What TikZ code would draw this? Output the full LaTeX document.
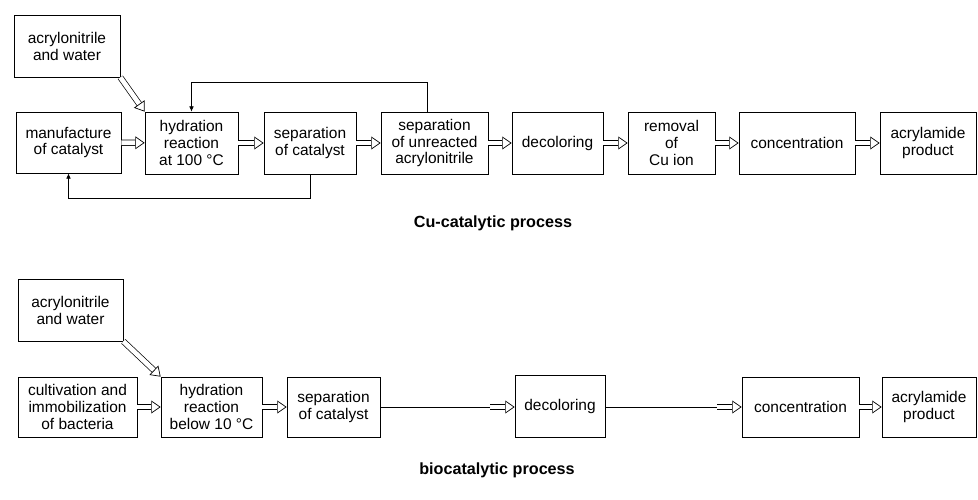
\documentclass[tikz,border=0pt]{standalone}
\usepackage{fontspec}
\setmainfont{Liberation Sans}
\usetikzlibrary{arrows.meta}

\tikzset{
  box/.style={draw, line width=0.6pt, align=center, inner sep=1pt,
    font=\fontsize{13.2}{14.5}\selectfont},
  wh/.style 2 args={minimum width=#1*0.03cm, minimum height=#2*0.03cm},
  hollow/.style={draw, line width=0.6pt, double, double distance=4pt,
    -{Triangle[open, length=8pt, width=11pt, line width=0.6pt]}},
  feed/.style={draw, line width=0.6pt, -{Latex[length=4.5pt,width=4pt]}},
  caption/.style={font=\fontsize{13.8}{16}\selectfont\bfseries},
}

\begin{document}
\begin{tikzpicture}[x=0.03cm, y=-0.03cm]
  \useasboundingbox (0,0) rectangle (978,499);

  % Cu-catalytic process
  \node[box, wh={106}{62}] (acry1) at (67,46) {acrylonitrile\\and water};
  \node[box, wh={105}{61}] (manu) at (68.5,142.5) {manufacture\\of catalyst};
  \node[box, wh={93}{62}] (hyd1) at (191.5,143) {hydration\\reaction\\at 100 °C};
  \node[box, wh={92}{62}] (sepcat1) at (310,143) {separation\\of catalyst};
  \node[box, wh={107}{62}] (sepunr) at (434.5,143) {separation\\of unreacted\\acrylonitrile};
  \node[box, wh={91}{62}] (decol1) at (557.5,143) {decoloring};
  \node[box, wh={87}{62}] (remov) at (671.5,143) {removal\\of\\Cu ion};
  \node[box, wh={116}{62}] (conc1) at (797,143) {concentration};
  \node[box, wh={96}{62}] (prod1) at (928,143) {acrylamide\\product};
  \node[caption] (cap1) at (493,223) {Cu-catalytic process};

  \draw[hollow] (acry1.south east) -- (hyd1.north west);
  \draw[hollow] (manu) -- (hyd1);
  \draw[hollow] (hyd1) -- (sepcat1);
  \draw[hollow] (sepcat1) -- (sepunr);
  \draw[hollow] (sepunr) -- (decol1);
  \draw[hollow] (decol1) -- (remov);
  \draw[hollow] (remov) -- (conc1);
  \draw[hollow] (conc1) -- (prod1);

  % recycle lines
  \draw[feed] ([xshift=-0.2cm]sepunr.north) -- ++(0,-29) -| (hyd1.north);
  \draw[feed] (sepcat1.south) -- ++(0,24) -| (manu.south);

  % biocatalytic process
  \node[box, wh={105}{62}] (acry2) at (70.5,310) {acrylonitrile\\and water};
  \node[box, wh={119}{60}] (cult) at (77.5,407) {cultivation and\\immobilization\\of bacteria};
  \node[box, wh={101}{60}] (hyd2) at (211.5,407) {hydration\\reaction\\below 10 °C};
  \node[box, wh={93}{60}] (sepcat2) at (333.5,407) {separation\\of catalyst};
  \node[box, wh={90}{62}] (decol2) at (560,406) {decoloring};
  \node[box, wh={117}{60}] (conc2) at (800.5,407) {concentration};
  \node[box, wh={94}{60}] (prod2) at (929,407) {acrylamide\\product};
  \node[caption] (cap2) at (497,470) {biocatalytic process};

  \coordinate (m1) at (490,407);
  \coordinate (m2) at (717,407);

  \draw[hollow] (acry2.south east) -- (hyd2.north west);
  \draw[hollow] (cult) -- (hyd2);
  \draw[hollow] (hyd2) -- (sepcat2);
  \draw[line width=0.6pt] (sepcat2) -- (m1);
  \draw[hollow] (m1) -- (decol2.west |- m1);
  \draw[line width=0.6pt] (decol2.east |- m2) -- (m2);
  \draw[hollow] (m2) -- (conc2);
  \draw[hollow] (conc2) -- (prod2);
\end{tikzpicture}
\end{document}
